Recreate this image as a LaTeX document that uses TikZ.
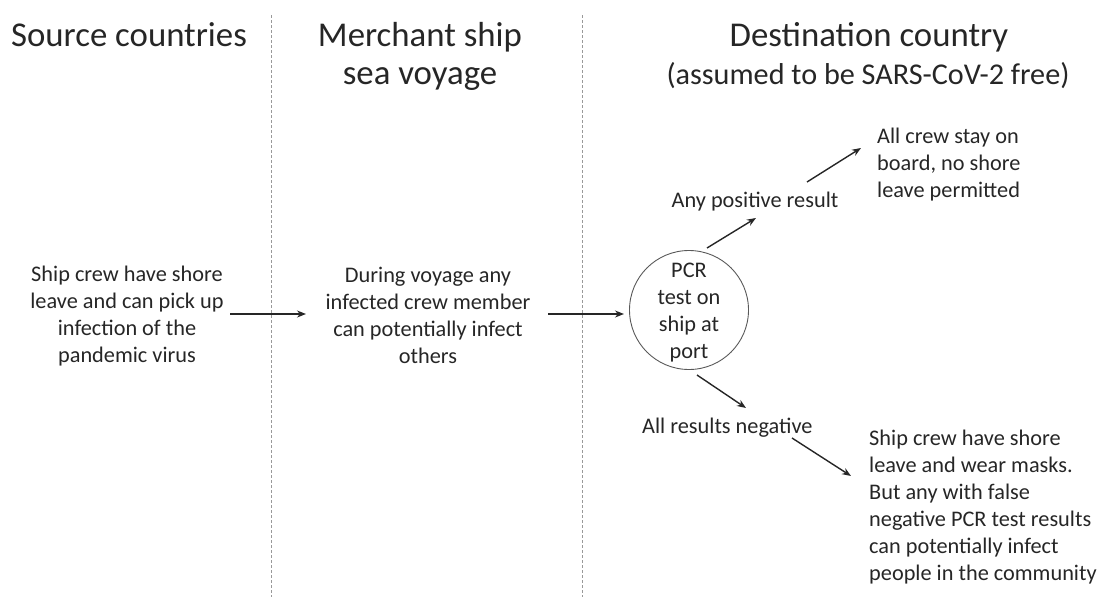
\documentclass[tikz,border=0pt]{standalone}
\usepackage{fontspec}
\setmainfont{Carlito}
\usetikzlibrary{arrows.meta}
\definecolor{txt}{HTML}{262626}
\tikzset{
  head/.style={font=\fontsize{34.8}{38}\selectfont, align=center, text=txt, inner sep=0pt, anchor=base},
  subhead/.style={font=\fontsize{30.2}{38}\selectfont, align=center, text=txt, inner sep=0pt, anchor=base},
  body/.style={font=\fontsize{22.3}{27}\selectfont, align=center, text=txt, inner sep=0pt, anchor=base},
  bodyl/.style={font=\fontsize{22.3}{27}\selectfont, align=left, text=txt, inner sep=0pt, anchor=base west},
  divider/.style={draw=gray!80, dash pattern=on 3pt off 2pt, line width=0.9pt},
  conn/.style={-{Stealth[length=9pt,width=7pt]}, line width=1.4pt, draw=txt},
}
\begin{document}
\begin{tikzpicture}[x=1pt,y=-1pt]
\useasboundingbox (0,0) rectangle (1106,597);
% dividers
\coordinate (d1t) at (271.5,15); \coordinate (d1b) at (271.5,597);
\coordinate (d2t) at (582,15); \coordinate (d2b) at (582,597);
\draw[divider] (d1t) -- (d1b);
\draw[divider] (d2t) -- (d2b);
% headers (anchor = baseline of the last line)
\node[head] (h1) at (129,46) {Source countries};
\node[head] (h2) at (420,84) {Merchant ship\\sea voyage};
\node[head] (h3) at (869,46) {Destination country};
\node[subhead] (h3b) at (868,84) {(assumed to be SARS-CoV-2 free)};
% bodies (anchor = baseline of the last line)
\node[body] (src) at (127,362) {Ship crew have shore\\leave and can pick up\\infection of the\\pandemic virus};
\node[body] (mid) at (428,363) {During voyage any\\infected crew member\\can potentially infect\\others};
\node[draw=gray!70!black, line width=0.9pt, circle, minimum size=119pt, inner sep=0pt] (pcr) at (689,310) {};
\node[body] (pcrt) at (689,358) {PCR\\test on\\ship at\\port};
\node[body] (pos) at (755,207) {Any positive result};
\node[bodyl] (stay) at (877,197) {All crew stay on\\board, no shore\\leave permitted};
\node[bodyl] (neg) at (642,433) {All results negative};
\node[bodyl] (leave) at (869,580) {Ship crew have shore\\leave and wear masks.\\But any with false\\negative PCR test results\\can potentially infect\\people in the community};
% connector ends
\coordinate (a1s) at (230,314); \coordinate (a1e) at (306,314);
\coordinate (a2s) at (548,314); \coordinate (a2e) at (624,314);
\coordinate (a3s) at (707,248); \coordinate (a3e) at (756,218);
\coordinate (a4s) at (807,182); \coordinate (a4e) at (861,148);
\coordinate (a5s) at (697,375); \coordinate (a5e) at (746,408);
\coordinate (a6s) at (792,438); \coordinate (a6e) at (851,476);
\draw[conn] (a1s) -- (a1e);
\draw[conn] (a2s) -- (a2e);
\draw[conn] (a3s) -- (a3e);
\draw[conn] (a4s) -- (a4e);
\draw[conn] (a5s) -- (a5e);
\draw[conn] (a6s) -- (a6e);
\end{tikzpicture}
\end{document}
